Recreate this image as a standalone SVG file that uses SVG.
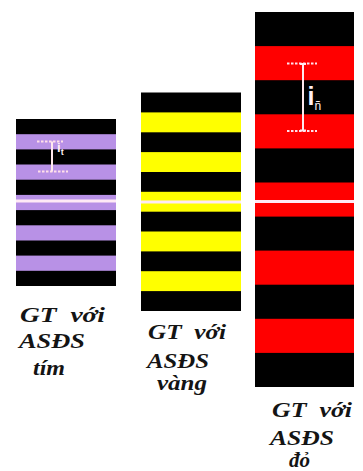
<svg xmlns="http://www.w3.org/2000/svg" width="363" height="471" viewBox="0 0 363 471">
<style>
.blk{fill:#000}
.pur{fill:#B891E6}
.yel{fill:#FFFF00}
.red{fill:#FF0000}
.wl{stroke:#FFEAF6;stroke-width:3}
.dash{stroke:#FFE0EA;stroke-width:2;stroke-dasharray:2.5 1.5;fill:none}
.vl{stroke:#FFE8EE;stroke-width:2;fill:none}
.lbl{font-family:"Liberation Serif","Times New Roman",serif;font-weight:bold;font-style:italic;font-size:21px;fill:#141414}
.mk{font-family:"Liberation Sans",Arial,sans-serif;fill:#FFF0F4}
</style>
<rect width="363" height="471" fill="#fff"/>
<g id="col-tim">
  <rect class="blk" x="16" y="119" width="100" height="167"/>
  <rect class="pur" x="16" y="134.2" width="100" height="15.2"/>
  <rect class="pur" x="16" y="164.5" width="100" height="15.2"/>
  <rect class="pur" x="16" y="194.9" width="100" height="15.2"/>
  <rect class="pur" x="16" y="225.3" width="100" height="15.2"/>
  <rect class="pur" x="16" y="255.6" width="100" height="15.2"/>
  <line class="wl" x1="16" y1="201" x2="116" y2="201"/>
  <line class="dash" x1="37" y1="141.5" x2="63" y2="141.5"/>
  <line class="dash" x1="38" y1="171.5" x2="68" y2="171.5"/>
  <line class="vl" x1="52" y1="141.5" x2="52" y2="171.5"/>
  <text class="mk" x="57" y="152" font-size="13" font-weight="bold">i<tspan font-size="9" dy="3">t</tspan></text>
</g>
<g id="col-vang">
  <rect class="blk" x="141" y="92.5" width="100" height="218.5"/>
  <rect class="yel" x="141" y="112.4" width="100" height="19.9"/>
  <rect class="yel" x="141" y="152.1" width="100" height="19.9"/>
  <rect class="yel" x="141" y="191.8" width="100" height="19.9"/>
  <rect class="yel" x="141" y="231.5" width="100" height="19.9"/>
  <rect class="yel" x="141" y="271.2" width="100" height="19.9"/>
  <line class="wl" x1="141" y1="202" x2="241" y2="202"/>
</g>
<g id="col-do">
  <rect class="blk" x="255" y="12" width="99" height="375"/>
  <rect class="red" x="255" y="46.1" width="99" height="34.1"/>
  <rect class="red" x="255" y="114.3" width="99" height="34.1"/>
  <rect class="red" x="255" y="182.5" width="99" height="34.1"/>
  <rect class="red" x="255" y="250.6" width="99" height="34.1"/>
  <rect class="red" x="255" y="318.8" width="99" height="34.1"/>
  <line class="wl" x1="255" y1="201.5" x2="354" y2="201.5"/>
  <line class="dash" x1="287" y1="63.5" x2="317" y2="63.5"/>
  <line class="dash" x1="287" y1="131" x2="317" y2="131"/>
  <line class="vl" x1="303" y1="63.5" x2="303" y2="131"/>
  <line class="vl" x1="300" y1="64" x2="306" y2="64"/>
  <line class="vl" x1="300" y1="130.5" x2="306" y2="130.5"/>
  <text class="mk" x="307.5" y="105" font-size="25" font-weight="bold">i<tspan font-size="12" font-weight="normal" dy="5">ñ</tspan></text>
</g>
<g id="labels">
  <text class="lbl" x="20" y="321.5" textLength="85" lengthAdjust="spacingAndGlyphs">GT&#160;&#160;với</text>
  <text class="lbl" x="19" y="348" textLength="66" lengthAdjust="spacingAndGlyphs">ASĐS</text>
  <text class="lbl" x="33" y="375" textLength="32" lengthAdjust="spacingAndGlyphs">tím</text>
  <text class="lbl" x="148" y="339" textLength="78" lengthAdjust="spacingAndGlyphs">GT&#160;&#160;với</text>
  <text class="lbl" x="147" y="367.5" textLength="62" lengthAdjust="spacingAndGlyphs">ASĐS</text>
  <text class="lbl" x="157" y="390" textLength="50" lengthAdjust="spacingAndGlyphs">vàng</text>
  <text class="lbl" x="272" y="417" textLength="80" lengthAdjust="spacingAndGlyphs">GT&#160;&#160;với</text>
  <text class="lbl" x="270" y="445" textLength="64" lengthAdjust="spacingAndGlyphs">ASĐS</text>
  <text class="lbl" x="289" y="467" textLength="21" lengthAdjust="spacingAndGlyphs">đỏ</text>
</g>
</svg>
